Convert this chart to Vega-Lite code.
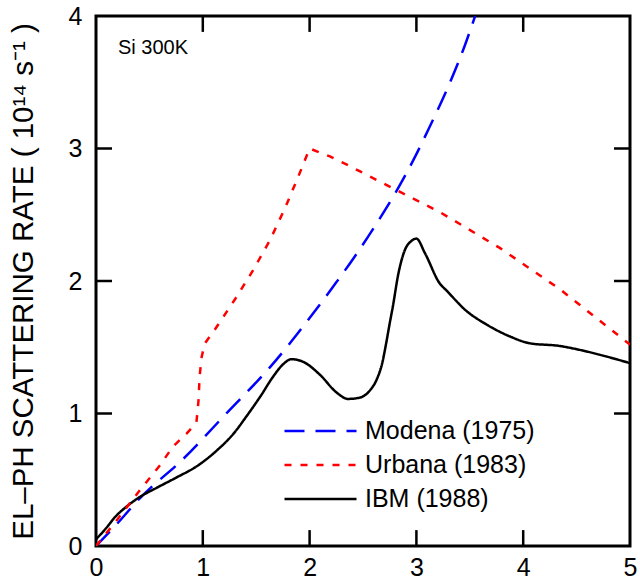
{
  "$schema": "https://vega.github.io/schema/vega-lite/v6.json",
  "width": 534,
  "height": 530,
  "autosize": {"type": "none"},
  "padding": {"left": 96, "top": 16, "right": 10, "bottom": 42},
  "background": "white",
  "config": {
    "font": "Liberation Sans",
    "view": {"stroke": "black", "strokeWidth": 3},
    "axis": {"labelFont": "Liberation Sans", "titleFont": "Liberation Sans", "labelColor": "black", "titleColor": "black", "grid": false, "domain": false, "ticks": false}
  },
  "datasets": {
    "curves": [
      {"s": "Modena (1975)", "x": 0, "y": 0},
      {"s": "Modena (1975)", "x": 0.2, "y": 0.17},
      {"s": "Modena (1975)", "x": 0.41, "y": 0.36},
      {"s": "Modena (1975)", "x": 0.82, "y": 0.66},
      {"s": "Modena (1975)", "x": 1.22, "y": 1.0},
      {"s": "Modena (1975)", "x": 1.63, "y": 1.35},
      {"s": "Modena (1975)", "x": 2.0, "y": 1.72},
      {"s": "Modena (1975)", "x": 2.25, "y": 1.99},
      {"s": "Modena (1975)", "x": 2.41, "y": 2.17},
      {"s": "Modena (1975)", "x": 2.6, "y": 2.4},
      {"s": "Modena (1975)", "x": 2.8, "y": 2.66},
      {"s": "Modena (1975)", "x": 2.97, "y": 2.91},
      {"s": "Modena (1975)", "x": 3.11, "y": 3.14},
      {"s": "Modena (1975)", "x": 3.31, "y": 3.49},
      {"s": "Modena (1975)", "x": 3.45, "y": 3.77},
      {"s": "Modena (1975)", "x": 3.55, "y": 4.0},
      {"s": "Urbana (1983)", "x": 0, "y": 0},
      {"s": "Urbana (1983)", "x": 0.2, "y": 0.2},
      {"s": "Urbana (1983)", "x": 0.41, "y": 0.42},
      {"s": "Urbana (1983)", "x": 0.6, "y": 0.61},
      {"s": "Urbana (1983)", "x": 0.72, "y": 0.75},
      {"s": "Urbana (1983)", "x": 0.85, "y": 0.85},
      {"s": "Urbana (1983)", "x": 0.94, "y": 0.93},
      {"s": "Urbana (1983)", "x": 0.96, "y": 1.1},
      {"s": "Urbana (1983)", "x": 0.97, "y": 1.28},
      {"s": "Urbana (1983)", "x": 0.99, "y": 1.43},
      {"s": "Urbana (1983)", "x": 1.02, "y": 1.53},
      {"s": "Urbana (1983)", "x": 1.11, "y": 1.63},
      {"s": "Urbana (1983)", "x": 1.3, "y": 1.86},
      {"s": "Urbana (1983)", "x": 1.47, "y": 2.08},
      {"s": "Urbana (1983)", "x": 1.63, "y": 2.31},
      {"s": "Urbana (1983)", "x": 1.77, "y": 2.55},
      {"s": "Urbana (1983)", "x": 1.89, "y": 2.78},
      {"s": "Urbana (1983)", "x": 2.0, "y": 3.0},
      {"s": "Urbana (1983)", "x": 2.19, "y": 2.94},
      {"s": "Urbana (1983)", "x": 2.32, "y": 2.89},
      {"s": "Urbana (1983)", "x": 2.78, "y": 2.7},
      {"s": "Urbana (1983)", "x": 3.22, "y": 2.52},
      {"s": "Urbana (1983)", "x": 3.78, "y": 2.25},
      {"s": "Urbana (1983)", "x": 4.34, "y": 1.94},
      {"s": "Urbana (1983)", "x": 5.0, "y": 1.52},
      {"s": "IBM (1988)", "x": 0, "y": 0.05},
      {"s": "IBM (1988)", "x": 0.1, "y": 0.14},
      {"s": "IBM (1988)", "x": 0.18, "y": 0.22},
      {"s": "IBM (1988)", "x": 0.29, "y": 0.3},
      {"s": "IBM (1988)", "x": 0.41, "y": 0.37},
      {"s": "IBM (1988)", "x": 0.57, "y": 0.44},
      {"s": "IBM (1988)", "x": 0.76, "y": 0.52},
      {"s": "IBM (1988)", "x": 0.94, "y": 0.6},
      {"s": "IBM (1988)", "x": 1.13, "y": 0.72},
      {"s": "IBM (1988)", "x": 1.29, "y": 0.85},
      {"s": "IBM (1988)", "x": 1.41, "y": 0.98},
      {"s": "IBM (1988)", "x": 1.54, "y": 1.13},
      {"s": "IBM (1988)", "x": 1.66, "y": 1.28},
      {"s": "IBM (1988)", "x": 1.75, "y": 1.37},
      {"s": "IBM (1988)", "x": 1.83, "y": 1.41},
      {"s": "IBM (1988)", "x": 1.94, "y": 1.39},
      {"s": "IBM (1988)", "x": 2.1, "y": 1.29},
      {"s": "IBM (1988)", "x": 2.25, "y": 1.16},
      {"s": "IBM (1988)", "x": 2.36, "y": 1.11},
      {"s": "IBM (1988)", "x": 2.47, "y": 1.12},
      {"s": "IBM (1988)", "x": 2.56, "y": 1.17},
      {"s": "IBM (1988)", "x": 2.63, "y": 1.26},
      {"s": "IBM (1988)", "x": 2.68, "y": 1.38},
      {"s": "IBM (1988)", "x": 2.71, "y": 1.5},
      {"s": "IBM (1988)", "x": 2.75, "y": 1.68},
      {"s": "IBM (1988)", "x": 2.78, "y": 1.81},
      {"s": "IBM (1988)", "x": 2.83, "y": 2.05},
      {"s": "IBM (1988)", "x": 2.89, "y": 2.23},
      {"s": "IBM (1988)", "x": 2.95, "y": 2.3},
      {"s": "IBM (1988)", "x": 3.0, "y": 2.32},
      {"s": "IBM (1988)", "x": 3.08, "y": 2.21},
      {"s": "IBM (1988)", "x": 3.22, "y": 1.98},
      {"s": "IBM (1988)", "x": 3.28, "y": 1.93},
      {"s": "IBM (1988)", "x": 3.46, "y": 1.78},
      {"s": "IBM (1988)", "x": 3.66, "y": 1.67},
      {"s": "IBM (1988)", "x": 3.88, "y": 1.58},
      {"s": "IBM (1988)", "x": 4.06, "y": 1.53},
      {"s": "IBM (1988)", "x": 4.34, "y": 1.51},
      {"s": "IBM (1988)", "x": 4.53, "y": 1.48},
      {"s": "IBM (1988)", "x": 4.78, "y": 1.43},
      {"s": "IBM (1988)", "x": 5.0, "y": 1.38}
    ],
    "xticks": [{"t": 1}, {"t": 2}, {"t": 3}, {"t": 4}],
    "yticks": [{"t": 1}, {"t": 2}, {"t": 3}],
    "note": [{"label": "Si 300K"}]
  },
  "layer": [
    {
      "layer": [
        {
          "data": {"name": "curves"},
          "transform": [{"filter": "datum.s !== 'Urbana (1983)'"}],
          "mark": {"type": "line", "interpolate": "monotone", "strokeWidth": 2.5, "clip": true},
          "encoding": {
            "x": {
              "field": "x", "type": "quantitative",
              "scale": {"domain": [0, 5], "nice": false, "zero": false},
              "axis": {
                "title": null, "orient": "bottom", "values": [0, 1, 2, 3, 4, 5], "format": "d",
                "ticks": false, "labelFontSize": 25, "labelPadding": 9, "labelFlush": false
              }
            },
            "y": {
              "field": "y", "type": "quantitative",
              "scale": {"domain": [0, 4], "nice": false, "zero": false},
              "axis": {
                "title": "EL–PH SCATTERING RATE ( 10¹⁴ s⁻¹ )", "titleFontSize": 29.5, "titleFontWeight": "normal", "titlePadding": 30,
                "orient": "left", "values": [0, 1, 2, 3, 4], "format": "d",
                "ticks": false, "labelFontSize": 25, "labelPadding": 14, "labelFlush": false
              }
            },
            "color": {
              "field": "s", "type": "nominal",
              "scale": {"domain": ["Modena (1975)", "Urbana (1983)", "IBM (1988)"], "range": ["#0000ff", "#ff0000", "#000000"]},
              "legend": {
                "title": null, "orient": "none", "legendX": 187, "legendY": 401,
                "symbolType": "stroke", "symbolSize": 5184, "symbolStrokeWidth": 2.5,
                "labelFontSize": 25, "labelFont": "Liberation Sans", "labelColor": "black", "labelOffset": 7, "labelLimit": 400,
                "clipHeight": 28, "rowPadding": 6, "padding": 0
              }
            },
            "strokeDash": {
              "field": "s", "type": "nominal",
              "scale": {"domain": ["Modena (1975)", "Urbana (1983)", "IBM (1988)"], "range": [[20, 11], [7, 9], [1, 0]]},
              "legend": null
            }
          }
        },
        {
          "data": {"name": "curves"},
          "transform": [{"filter": "datum.s === 'Urbana (1983)'"}],
          "mark": {"type": "line", "interpolate": "linear", "strokeWidth": 2.5, "clip": true},
          "encoding": {
            "x": {"field": "x", "type": "quantitative", "scale": {"domain": [0, 5], "nice": false, "zero": false}},
            "y": {"field": "y", "type": "quantitative", "scale": {"domain": [0, 4], "nice": false, "zero": false}},
            "color": {"field": "s", "type": "nominal"},
            "strokeDash": {"field": "s", "type": "nominal"}
          }
        },
        {
          "data": {"name": "xticks"},
          "mark": {"type": "rule", "color": "black", "strokeWidth": 2.5},
          "encoding": {
            "x": {"field": "t", "type": "quantitative", "scale": {"domain": [0, 5], "nice": false, "zero": false}},
            "y": {"datum": 0, "type": "quantitative", "scale": {"domain": [0, 4], "nice": false, "zero": false}},
            "y2": {"datum": 0.12}
          }
        },
        {
          "data": {"name": "xticks"},
          "mark": {"type": "rule", "color": "black", "strokeWidth": 2.5},
          "encoding": {
            "x": {"field": "t", "type": "quantitative", "scale": {"domain": [0, 5], "nice": false, "zero": false}},
            "y": {"datum": 3.88, "type": "quantitative", "scale": {"domain": [0, 4], "nice": false, "zero": false}},
            "y2": {"datum": 4}
          }
        },
        {
          "data": {"name": "yticks"},
          "mark": {"type": "rule", "color": "black", "strokeWidth": 2.5},
          "encoding": {
            "y": {"field": "t", "type": "quantitative", "scale": {"domain": [0, 4], "nice": false, "zero": false}},
            "x": {"datum": 0, "type": "quantitative", "scale": {"domain": [0, 5], "nice": false, "zero": false}},
            "x2": {"datum": 0.15}
          }
        },
        {
          "data": {"name": "yticks"},
          "mark": {"type": "rule", "color": "black", "strokeWidth": 2.5},
          "encoding": {
            "y": {"field": "t", "type": "quantitative", "scale": {"domain": [0, 4], "nice": false, "zero": false}},
            "x": {"datum": 4.85, "type": "quantitative", "scale": {"domain": [0, 5], "nice": false, "zero": false}},
            "x2": {"datum": 5}
          }
        }
      ]
    },
    {
      "data": {"name": "note"},
      "mark": {"type": "text", "align": "left", "baseline": "alphabetic", "fontSize": 20, "font": "Liberation Sans", "fill": "black"},
      "encoding": {
        "x": {"datum": 0.206, "type": "quantitative", "scale": {"domain": [0, 5], "nice": false, "zero": false}, "axis": null},
        "y": {"datum": 3.71, "type": "quantitative", "scale": {"domain": [0, 4], "nice": false, "zero": false}, "axis": null},
        "text": {"field": "label"}
      }
    }
  ],
  "resolve": {"scale": {"x": "independent", "y": "independent"}}
}
